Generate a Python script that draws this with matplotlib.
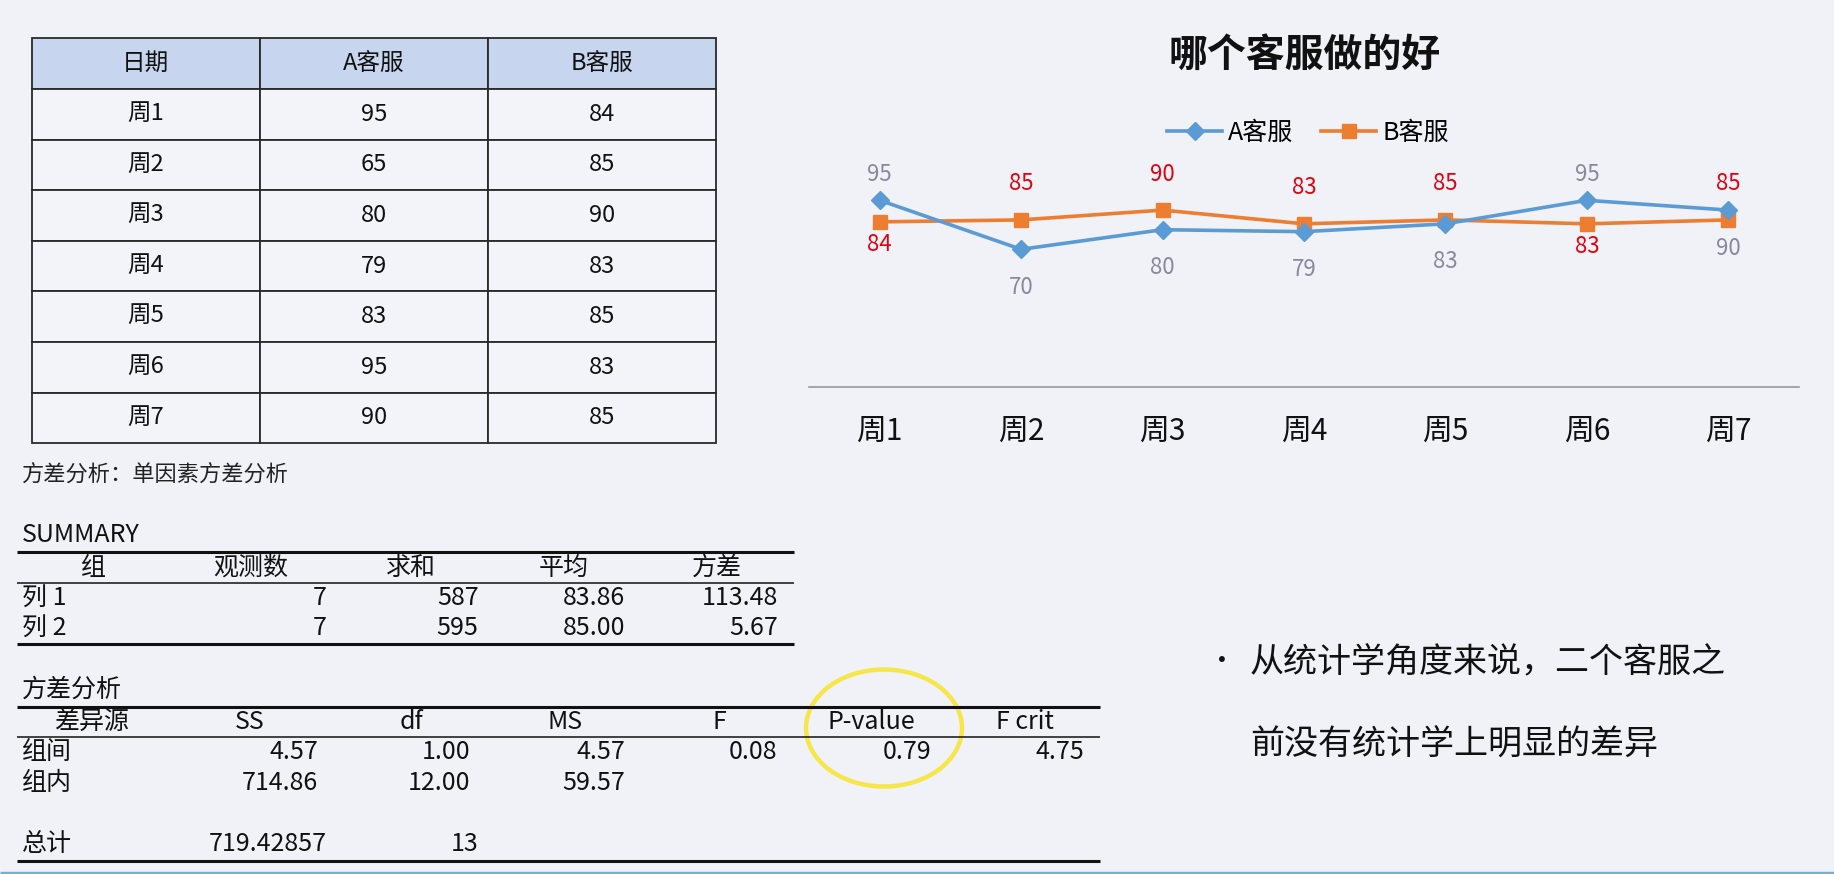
import matplotlib
matplotlib.use('Agg')
import matplotlib.pyplot as plt
from matplotlib.patches import Ellipse

plt.rcParams['font.family'] = ['Noto Sans CJK SC', 'DejaVu Sans']

# 数据
weeks = ['周1', '周2', '周3', '周4', '周5', '周6', '周7']
a_table = [95, 65, 80, 79, 83, 95, 90]
b_table = [84, 85, 90, 83, 85, 83, 85]
# 图表里A客服第2周画的是70
a_chart = [95, 70, 80, 79, 83, 95, 90]
b_chart = [84, 85, 90, 83, 85, 83, 85]
a_label_pos = ['above', 'below', 'below', 'below', 'below', 'above', 'below']
b_label_pos = ['below', 'above', 'above', 'above', 'above', 'below', 'above']

summary_cols = ['组', '观测数', '求和', '平均', '方差']
summary_rows = [['列 1', '7', '587', '83.86', '113.48'],
                ['列 2', '7', '595', '85.00', '5.67']]
anova_cols = ['差异源', 'SS', 'df', 'MS', 'F', 'P-value', 'F crit']
anova_rows = [['组间', '4.57', '1.00', '4.57', '0.08', '0.79', '4.75'],
              ['组内', '714.86', '12.00', '59.57', '', '', '']]
total_row = ['总计', '719.42857', '13']

W, H = 1834, 874
bg = '#f0f2f7'
fig = plt.figure(figsize=(W / 100, H / 100), dpi=100, facecolor=bg)

# 整张图的像素坐标层
ov = fig.add_axes([0, 0, 1, 1])
ov.set_xlim(0, W)
ov.set_ylim(H, 0)
ov.axis('off')
ov.set_facecolor(bg)

# 左上表格
cells = [['日期', 'A客服', 'B客服']] + [[w, str(a), str(b)] for w, a, b in zip(weeks, a_table, b_table)]
colours = [['#c7d6ee'] * 3] + [['#f3f4f9'] * 3 for _ in weeks]
x0, x1, y0, y1 = 31.6, 716, 38.3, 443.3
tbl = ov.table(cellText=cells, cellColours=colours, cellLoc='center',
               bbox=[x0 / W, 1 - y1 / H, (x1 - x0) / W, (y1 - y0) / H])
tbl.auto_set_font_size(False)
for (r, c), cell in tbl.get_celld().items():
    cell.set_edgecolor('#2a2a2a')
    cell.set_linewidth(1.3)
    cell.get_text().set_fontsize(17)
    cell.get_text().set_color('#111111')

# 方差分析部分
fs = 18
ov.text(22, 475, '方差分析：单因素方差分析', fontsize=16, va='center', color='#222222')
ov.text(22, 535, 'SUMMARY', fontsize=fs, va='center', color='#111111')
ov.hlines([551.7, 644.3], 16.7, 794, color='#111111', lw=2.2)
ov.hlines(583.3, 16.7, 794, color='#111111', lw=1.1)
sum_centers = [93, 251, 410.6, 564, 716.5]
sum_right = [None, 327, 478.6, 625, 777.7]
for name, xc in zip(summary_cols, sum_centers):
    ov.text(xc, 568, name, fontsize=fs, ha='center', va='center', color='#111111')
for row, yy in zip(summary_rows, [598.3, 628.3]):
    ov.text(22, yy, row[0], fontsize=fs, va='center', color='#111111')
    for val, xr in zip(row[1:], sum_right[1:]):
        ov.text(xr, yy, val, fontsize=fs, ha='right', va='center', color='#111111')

ov.text(22, 690, '方差分析', fontsize=fs, va='center', color='#111111')
ov.hlines([706.7, 861], 16.7, 1100, color='#111111', lw=2.2)
ov.hlines(737.3, 16.7, 1100, color='#111111', lw=1.1)
an_centers = [91.5, 250, 411.6, 565, 719, 871.4, 1025]
an_right = [None, 318, 470.7, 625, 777.7, 931, 1084]
for name, xc in zip(anova_cols, an_centers):
    ov.text(xc, 721.7, name, fontsize=fs, ha='center', va='center', color='#111111')
for row, yy in zip(anova_rows, [751.7, 783.3]):
    ov.text(22, yy, row[0], fontsize=fs, va='center', color='#111111')
    for val, xr in zip(row[1:], an_right[1:]):
        ov.text(xr, yy, val, fontsize=fs, ha='right', va='center', color='#111111')
ov.text(22, 844.3, total_row[0], fontsize=fs, va='center', color='#111111')
for val, xr in zip(total_row[1:], [327, 478.6]):
    ov.text(xr, 844.3, val, fontsize=fs, ha='right', va='center', color='#111111')

# 黄圈
ov.add_patch(Ellipse((884, 728), 156, 117, fill=False, ec='#f7e64a', lw=3.2))

# 右边的结论
ov.text(1222, 662, '•', fontsize=20, ha='center', va='center', color='#111111')
ov.text(1250, 663, '从统计学角度来说，二个客服之', fontsize=24.5, va='center', color='#111111')
ov.text(1250, 745, '前没有统计学上明显的差异', fontsize=24.5, va='center', color='#111111')

# 底部蓝线
ov.hlines(872.5, 0, W, color='#7aaecb', lw=2.5)

# 折线图
ax = fig.add_axes([809 / W, 1 - 386.5 / H, (1799 - 809) / W, 196 / H])
ax.patch.set_alpha(0)
x = list(range(len(weeks)))
la, = ax.plot(x, a_chart, color='#5b9bd5', lw=2.6, marker='D', ms=9,
              label='A客服', clip_on=False, zorder=3)
lb, = ax.plot(x, b_chart, color='#ed7d31', lw=2.6, marker='s', ms=10.5,
              label='B客服', clip_on=False, zorder=2)
ax.set_xlim(-0.5, len(weeks) - 0.5)
ax.set_ylim(0, 100)
for s in ['top', 'left', 'right']:
    ax.spines[s].set_visible(False)
ax.spines['bottom'].set_color('#9a9a9a')
ax.spines['bottom'].set_linewidth(1.2)
ax.set_yticks([])
ax.set_xticks(x)
ax.set_xticklabels(weeks, fontsize=21.5, color='#111111')
ax.tick_params(axis='x', length=0, pad=21)

offs = {'A': {'above': 26, 'below': -38}, 'B': {'above': 36, 'below': -23}}
for i in x:
    ax.annotate(str(a_chart[i]), (i, a_chart[i]), xytext=(0, offs['A'][a_label_pos[i]]),
                textcoords='offset pixels', ha='center', va='center',
                fontsize=16, color='#868a9c')
    ax.annotate(str(b_chart[i]), (i, b_chart[i]), xytext=(0, offs['B'][b_label_pos[i]]),
                textcoords='offset pixels', ha='center', va='center',
                fontsize=16, color='#e3000f')

fig.text(1305 / W, 1 - 55 / H, '哪个客服做的好', fontsize=28, fontweight='bold',
         ha='center', va='center', color='#111111')
fig.legend(handles=[la, lb], loc='center', bbox_to_anchor=(1308 / W, 1 - 133 / H),
           ncol=2, frameon=False, fontsize=18, handlelength=2.2, handletextpad=0.25,
           columnspacing=1.1)

fig.savefig('out.png', dpi=100, facecolor=bg)
